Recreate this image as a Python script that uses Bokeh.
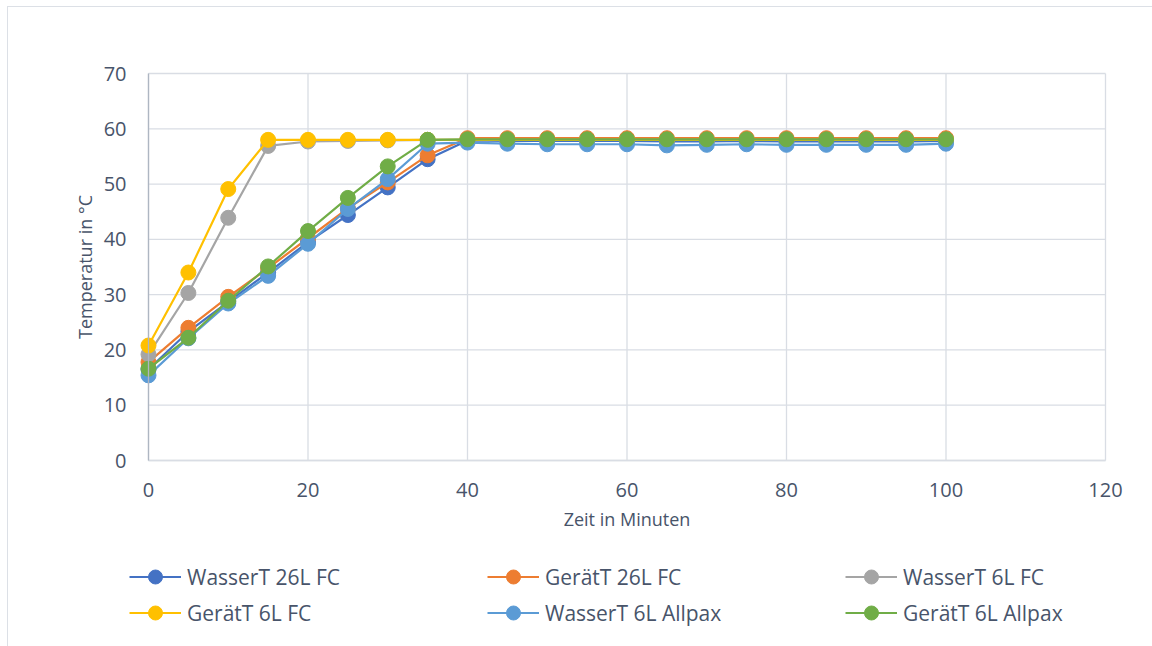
from bokeh.plotting import figure
from bokeh.models import Range1d, Legend, LegendItem, FixedTicker, InlineStyleSheet
from bokeh.embed import file_html
from bokeh.resources import INLINE

# Time in minutes
minutes = [0, 5, 10, 15, 20, 25, 30, 35, 40, 45, 50, 55, 60, 65, 70, 75, 80, 85, 90, 95, 100]

# Temperatures (°C) per measurement series
wasser_26l_fc = [16.5, 23.3, 28.7, 34.0, 39.5, 44.4, 49.4, 54.5, 57.9, 57.8, 57.8, 57.8, 57.8, 57.7,
                 57.7, 57.8, 57.7, 57.7, 57.7, 57.7, 57.8]
geraet_26l_fc = [17.8, 24.0, 29.6, 34.8, 40.2, 45.6, 50.3, 55.2, 58.3, 58.3, 58.3, 58.3, 58.3, 58.3,
                 58.3, 58.3, 58.3, 58.3, 58.3, 58.3, 58.3]
wasser_6l_fc = [19.2, 30.3, 43.9, 56.9, 57.7, 57.8, 57.9, 58.0, 58.0, 58.0, 58.0, 58.0, 58.0, 58.0,
                58.0, 58.0, 58.0, 58.0, 58.0, 58.0, 58.0]
geraet_6l_fc = [20.8, 34.0, 49.1, 58.0, 58.0, 58.0, 58.0, 58.0, 58.0, 58.0, 58.0, 58.0, 58.0, 58.0,
                58.0, 58.0, 58.0, 58.0, 58.0, 58.0, 58.0]
wasser_6l_allpax = [15.4, 22.1, 28.4, 33.4, 39.2, 45.5, 50.9, 57.3, 57.5, 57.3, 57.2, 57.2, 57.2, 57.0,
                    57.1, 57.2, 57.1, 57.1, 57.1, 57.1, 57.3]
geraet_6l_allpax = [16.6, 22.2, 28.9, 35.1, 41.5, 47.5, 53.2, 58.0, 58.1, 58.1, 58.1, 58.1, 58.1, 58.1,
                    58.1, 58.1, 58.1, 58.1, 58.1, 58.1, 58.1]

series_names = ["WasserT 26L FC", "GerätT 26L FC", "WasserT 6L FC",
                "GerätT 6L FC", "WasserT 6L Allpax", "GerätT 6L Allpax"]
series_values = [wasser_26l_fc, geraet_26l_fc, wasser_6l_fc,
                 geraet_6l_fc, wasser_6l_allpax, geraet_6l_allpax]
colors = ["#4472C4", "#ED7D31", "#A5A5A5", "#FFC000", "#5B9BD5", "#70AD47"]

x_ticks = [0, 20, 40, 60, 80, 100, 120]
y_ticks = [0, 10, 20, 30, 40, 50, 60, 70]

FONT = "Open Sans"
TEXT = "#48546A"
GRID = "#D9DDE4"

W, H = 1152, 646
# pixel box of the data area inside the canvas
PX_LEFT, PX_RIGHT, PX_TOP, PX_BOTTOM = 148, 1105, 73, 460
X_MIN, X_MAX, Y_MIN, Y_MAX = 0, 120, 0, 70

# the frame covers the whole canvas; the ranges are widened so the data box
# lands at the pixel box above and axes / legend can sit in the margins
sx = (PX_RIGHT - PX_LEFT) / (X_MAX - X_MIN)
sy = (PX_BOTTOM - PX_TOP) / (Y_MAX - Y_MIN)
x_range = Range1d(X_MIN - PX_LEFT / sx, X_MAX + (W - PX_RIGHT) / sx)
y_range = Range1d(Y_MIN - (H - PX_BOTTOM) / sy, Y_MAX + PX_TOP / sy)

frame_css = InlineStyleSheet(css="""
:host { position: relative; }
:host::after {
  content: ''; position: absolute; left: 7px; top: 6px; right: -20px; bottom: -20px;
  border: 1.3px solid #DCE0E6; pointer-events: none;
}
""")

p = figure(width=W, height=H, output_backend="svg", toolbar_location=None,
           x_range=x_range, y_range=y_range,
           min_border=0, min_border_left=0, min_border_right=0,
           min_border_top=0, min_border_bottom=0,
           stylesheets=[frame_css])
p.background_fill_color = "white"
p.border_fill_color = "white"
p.outline_line_color = None
p.grid.visible = False

# gridlines limited to the data box, one per tick
p.segment(x0=x_ticks, y0=[Y_MIN] * len(x_ticks), x1=x_ticks, y1=[Y_MAX] * len(x_ticks),
          line_color=GRID, line_width=1.3)
p.segment(x0=[X_MIN] * len(y_ticks), y0=y_ticks, x1=[X_MAX] * len(y_ticks), y1=y_ticks,
          line_color=GRID, line_width=1.3)

p.xaxis.ticker = FixedTicker(ticks=x_ticks)
p.yaxis.ticker = FixedTicker(ticks=y_ticks)

for ax in (p.xaxis[0], p.yaxis[0]):
    ax.fixed_location = 0
    ax.major_tick_line_color = None
    ax.minor_tick_line_color = None
    ax.major_tick_out = 0
    ax.major_tick_in = 0
    ax.major_label_text_font = FONT
    ax.major_label_text_font_size = "20px"
    ax.major_label_text_color = TEXT
    ax.axis_label_text_font = FONT
    ax.axis_label_text_font_size = "18px"
    ax.axis_label_text_font_style = "normal"
    ax.axis_label_text_color = TEXT

p.xaxis.bounds = (X_MIN, X_MAX)
p.yaxis.bounds = (Y_MIN, Y_MAX)
p.xaxis.axis_line_color = GRID
p.xaxis.axis_line_width = 1.3
p.yaxis.axis_line_color = "#AEB6C2"
p.yaxis.axis_line_width = 1.3
p.xaxis.major_label_standoff = 22
p.yaxis.major_label_standoff = 22
p.xaxis.axis_label = "Zeit in Minuten"
p.yaxis.axis_label = "Temperatur in °C"
p.xaxis.axis_label_standoff = 7
p.yaxis.axis_label_standoff = 4

items = []
for name, vals, col in zip(series_names, series_values, colors):
    ln = p.line(minutes, vals, line_color=col, line_width=2.2)
    sc = p.scatter(minutes, vals, marker="circle", size=15, fill_color=col, line_color=col)
    items.append(LegendItem(label=name, renderers=[ln, sc]))

# legend grid is filled column by column; order items so rows read left to right
ncols = 3
nrows = (len(items) + ncols - 1) // ncols
ordered = [items[r * ncols + c] for c in range(ncols) for r in range(nrows)]

legend = Legend(items=ordered, ncols=ncols, location=(129, 16),
                glyph_width=52, glyph_height=35, label_height=20, label_width=299,
                label_standoff=6, spacing=1, padding=0, margin=0,
                border_line_color=None, background_fill_alpha=0,
                label_text_font=FONT, label_text_font_size="21px", label_text_color=TEXT)
p.add_layout(legend, "center")

open("out.html", "w").write(file_html(p, INLINE))
